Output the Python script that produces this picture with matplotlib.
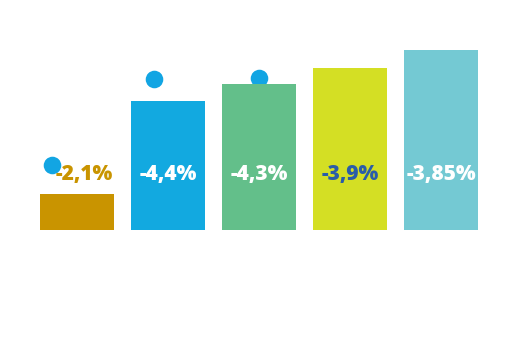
import matplotlib
matplotlib.use("Agg")
import matplotlib.pyplot as plt

categories = ["A", "B", "C", "D", "E"]
bar_values = [20.0, 71.7, 81.1, 90.0, 100.0]
labels = ["-2,1%", "-4,4%", "-4,3%", "-3,9%", "-3,85%"]
bar_colors = ["#C99400", "#12A9E0", "#63BF8A", "#D4DF24", "#74C9D3"]
label_colors = ["#C99400", "#FFFFFF", "#FFFFFF", "#2A5DA8", "#FFFFFF"]

dot_cat = [0, 1, 2]
dot_offsets = [-0.275, -0.154, 0.0]
dot_values = [36.1, 83.9, 84.4]

fig = plt.figure(figsize=(5.12, 3.58), dpi=100)
ax = fig.add_axes([0, 0, 1, 1])
x = list(range(len(categories)))
ax.bar(x, bar_values, width=0.824, color=bar_colors, zorder=2)
dx = [c + o for c, o in zip(dot_cat, dot_offsets)]
ax.scatter(dx, dot_values, s=160, color="#12A5E3", zorder=1, linewidths=0)
for xi, lab, col in zip(x, labels, label_colors):
    ax.text(xi + (0.08 if xi == 0 else 0), 31, lab, ha="center", va="center",
            color=col, fontsize=15, fontweight=800, family="Open Sans", zorder=3)
ax.set_xlim(-77 / 91, (512 - 77) / 91)
ax.set_ylim(-128 / 1.8, 230 / 1.8)
ax.axis("off")
fig.savefig("out.png", dpi=100)
